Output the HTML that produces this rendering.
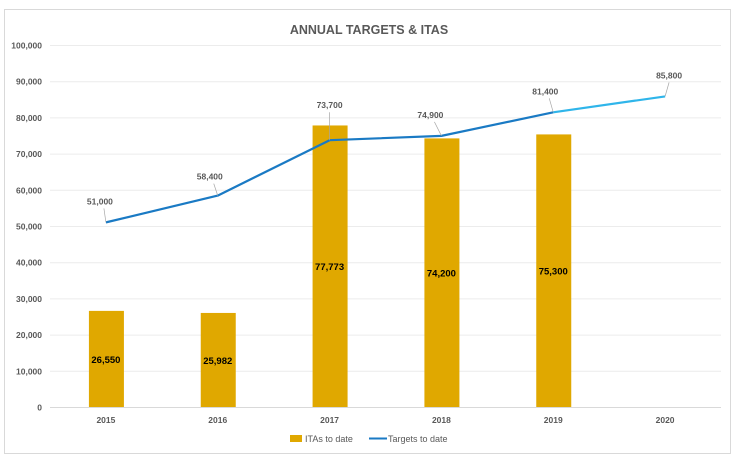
<!DOCTYPE html>
<html><head><meta charset="utf-8"><style>
html,body{margin:0;padding:0;background:#fff;}
svg{display:block;font-family:"Liberation Sans",sans-serif;}
</style></head><body>
<svg id="chart" width="737" height="459" viewBox="0 0 737 459">
<rect x="4.5" y="9.5" width="726" height="444" fill="#fff" stroke="#d9d9d9"/>
<text x="369" y="34" text-anchor="middle" font-size="12.5" font-weight="bold" fill="#595959">ANNUAL TARGETS &amp; ITAS</text>
<g id="grid"></g><g id="bars"></g><g id="line"></g><g id="labels"></g>
<g>
<rect x="290" y="435" width="12" height="7" fill="#e0a800"/>
<text x="305" y="442" font-size="9" fill="#595959">ITAs to date</text>
<line x1="369" y1="438.5" x2="387" y2="438.5" stroke="#1a7ac4" stroke-width="2"/>
<text x="388" y="442" font-size="9" fill="#595959">Targets to date</text>
</g>
</svg>
<script>
const categories=["2015","2016","2017","2018","2019","2020"];
const itas=[26550,25982,77773,74200,75300,null];
const targets=[51000,58400,73700,74900,81400,85800];
const yTicks=[0,10000,20000,30000,40000,50000,60000,70000,80000,90000,100000];
const NS="http://www.w3.org/2000/svg";
const L=50,R=721,T=45,B=407,YMAX=100000;
const y=v=>B-(v/YMAX)*(B-T);
const bw=(R-L)/categories.length;
const x=i=>L+bw*(i+0.5);
const fmt=v=>v===0?"0":v.toLocaleString("en-US");
function mk(tag,attrs,parent,txt){const e=document.createElementNS(NS,tag);for(const k in attrs)e.setAttribute(k,attrs[k]);if(txt!=null)e.textContent=txt;parent.appendChild(e);return e;}
const grid=document.getElementById("grid");
yTicks.forEach(t=>{
 const g=mk("line",{x1:L,x2:R,y1:y(t)+0.5,y2:y(t)+0.5,stroke:t===0?"#d9d9d9":"#ececec","stroke-width":1},grid);
 
 
 const tl=mk("text",{x:42,y:y(t)+3.5,"text-anchor":"end","font-size":"8.5","font-weight":"bold",fill:"#595959"},grid,fmt(t));
 
 
});
categories.forEach((c,i)=>{
 const t=mk("text",{x:x(i),y:423,"text-anchor":"middle","font-size":"8.5","font-weight":"bold",fill:"#595959"},grid,c);
 
 
});
const bars=document.getElementById("bars");
const labels=document.getElementById("labels");
itas.forEach((v,i)=>{
 if(v==null)return;
 const r=mk("rect",{x:x(i)-17,y:y(v),width:35,height:B-y(v),fill:"#e0a800"},bars);
 
 
 const t=mk("text",{x:x(i),y:(y(v)+B)/2+4,"text-anchor":"middle","font-size":"9.5","font-weight":"bold",fill:"#000"},labels,fmt(v));
 
 
});
const line=document.getElementById("line");
const pts=targets.map((v,i)=>[x(i),y(v)]);
const main=mk("polyline",{points:pts.slice(0,5).map(p=>p.join(",")).join(" "),fill:"none",stroke:"#1a7ac4","stroke-width":2.2,"stroke-linejoin":"round"},line);


const ext=mk("line",{x1:pts[4][0],y1:pts[4][1],x2:pts[5][0],y2:pts[5][1],stroke:"#2fb5ea","stroke-width":2.2},line);


const off=[[-6,-18],[-8,-16],[0,-32],[-11,-18],[-8,-18],[4,-18]];
targets.forEach((v,i)=>{
 const lx=pts[i][0]+off[i][0],ly=pts[i][1]+off[i][1];
 const ld=mk("line",{x1:pts[i][0],y1:pts[i][1],x2:lx+(off[i][0]<0?4:0)*1,y2:ly+4,stroke:"#a6a6a6","stroke-width":0.7},labels);
 
 
 const t=mk("text",{x:lx,y:ly,"text-anchor":"middle","font-size":"8.5","font-weight":"bold",fill:"#595959"},labels,fmt(v));
 
 
});
</script>
</body></html>
